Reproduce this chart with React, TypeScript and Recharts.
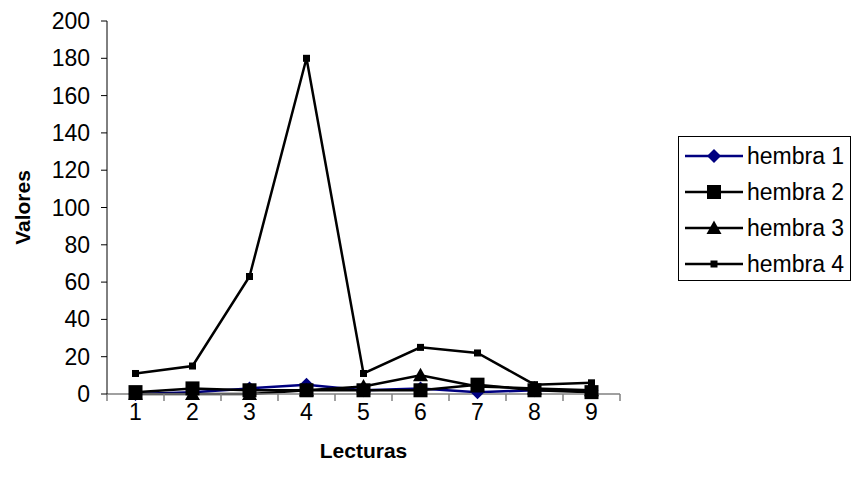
import { LineChart, Line, XAxis, YAxis } from 'recharts'

const lecturas = [1, 2, 3, 4, 5, 6, 7, 8, 9]
const hembra1 = [0, 1, 3, 5, 2, 3, 1, 2, 2]
const hembra2 = [1, 3, 2, 2, 2, 2, 5, 2, 1]
const hembra3 = [0, 0, 0, 2, 4, 10, 4, 3, 2]
const hembra4 = [11, 15, 63, 180, 11, 25, 22, 5, 6]
const yTicks = [0, 20, 40, 60, 80, 100, 120, 140, 160, 180, 200]
const boundaryTicks = [0.5, 1.5, 2.5, 3.5, 4.5, 5.5, 6.5, 7.5, 8.5, 9.5]

const FONT = '"Liberation Sans", Arial, sans-serif'

type MarkerKind = 'diamond' | 'square' | 'triangle' | 'small'

const series = [
  { key: 'h1', name: 'hembra 1', values: hembra1, color: '#000080', marker: 'diamond' as MarkerKind },
  { key: 'h2', name: 'hembra 2', values: hembra2, color: '#000000', marker: 'square' as MarkerKind },
  { key: 'h3', name: 'hembra 3', values: hembra3, color: '#000000', marker: 'triangle' as MarkerKind },
  { key: 'h4', name: 'hembra 4', values: hembra4, color: '#000000', marker: 'small' as MarkerKind },
]

const data = lecturas.map((x, i) => {
  const row: Record<string, number> = { x }
  series.forEach(s => { row[s.key] = s.values[i] })
  return row
})

function markerShape(kind: MarkerKind, cx: number, cy: number, color: string, key?: string) {
  if (kind === 'diamond') {
    const r = 7
    return <path key={key} d={`M${cx},${cy - r}L${cx + r},${cy}L${cx},${cy + r}L${cx - r},${cy}Z`} fill={color} />
  }
  if (kind === 'square') {
    const r = 7
    return <rect key={key} x={cx - r} y={cy - r} width={r * 2} height={r * 2} fill={color} />
  }
  if (kind === 'triangle') {
    const r = 7.5
    return <path key={key} d={`M${cx},${cy - r}L${cx + r},${cy + r * 0.8}L${cx - r},${cy + r * 0.8}Z`} fill={color} />
  }
  const r = 3.5
  return <rect key={key} x={cx - r} y={cy - r} width={r * 2} height={r * 2} fill={color} />
}

const xTick = (p: any) => (
  <text key={`xt-${p.index}`} x={p.x} y={p.y} dy={17} textAnchor="middle" fontFamily={FONT} fontSize={23} fill="#000">
    {p.payload.value}
  </text>
)

const yTick = (p: any) => (
  <text key={`yt-${p.index}`} x={p.x} y={p.y} dy={8} textAnchor="end" fontFamily={FONT} fontSize={23} fill="#000">
    {p.payload.value}
  </text>
)

function Legend() {
  return (
    <div style={{
      position: 'absolute', left: 678, top: 136, width: 173, height: 145,
      border: '1px solid #000', boxSizing: 'border-box', fontFamily: FONT, fontSize: 23,
    }}>
      {series.map((s, i) => (
        <div key={s.key} style={{ position: 'absolute', left: 6, top: 19 + i * 36 - 14, height: 28, display: 'flex', alignItems: 'center' }}>
          <svg width={58} height={28}>
            <line x1={0} y1={14} x2={58} y2={14} stroke={s.color} strokeWidth={2.5} />
            {markerShape(s.marker, 29, 14, s.color)}
          </svg>
          <span style={{ marginLeft: 4, color: '#000' }}>{s.name}</span>
        </div>
      ))}
    </div>
  )
}

export default function App() {
  return (
    <div style={{ position: 'absolute', left: 0, top: 0, width: 851, height: 479, background: '#fff' }}>
      <LineChart width={851} height={479} data={data} margin={{ top: 21, right: 231, bottom: 29, left: 0 }}>
        <XAxis
          dataKey="x"
          type="number"
          domain={[0.5, 9.5]}
          ticks={boundaryTicks}
          tickFormatter={() => ''}
          height={1}
          stroke="#808080"
          strokeWidth={1.5}
          tickSize={7}
          allowDataOverflow
        />
        <XAxis
          xAxisId="labels"
          dataKey="x"
          type="number"
          domain={[0.5, 9.5]}
          ticks={lecturas}
          axisLine={false}
          tickLine={false}
          tickSize={0}
          tickMargin={8}
          height={55}
          tick={xTick}
          label={{
            content: (props: any) => {
              const vb = props.viewBox
              return (
                <text x={vb.x + vb.width / 2} y={vb.y + vb.height} textAnchor="middle" dominantBaseline="central"
                  fontFamily={FONT} fontSize={21} fontWeight="bold" fill="#000">Lecturas</text>
              )
            },
          }}
        />
        <YAxis
          domain={[0, 200]}
          ticks={yTicks}
          width={107}
          stroke="#000"
          tickSize={6}
          tickMargin={11}
          tick={yTick}
          label={{
            content: (props: any) => {
              const vb = props.viewBox
              const cx = 22
              const cy = vb.y + vb.height / 2
              return (
                <text x={cx} y={cy} transform={`rotate(-90 ${cx} ${cy})`} textAnchor="middle" dominantBaseline="central"
                  fontFamily={FONT} fontSize={21} fontWeight="bold" fill="#000">Valores</text>
              )
            },
          }}
        />
        {series.map(s => (
          <Line
            key={s.key}
            dataKey={s.key}
            name={s.name}
            stroke={s.color}
            strokeWidth={2.5}
            isAnimationActive={false}
            dot={(p: any) => markerShape(s.marker, p.cx, p.cy, s.color, `${s.key}-${p.index}`)}
            activeDot={false}
          />
        ))}
      </LineChart>
      <Legend />
    </div>
  )
}
